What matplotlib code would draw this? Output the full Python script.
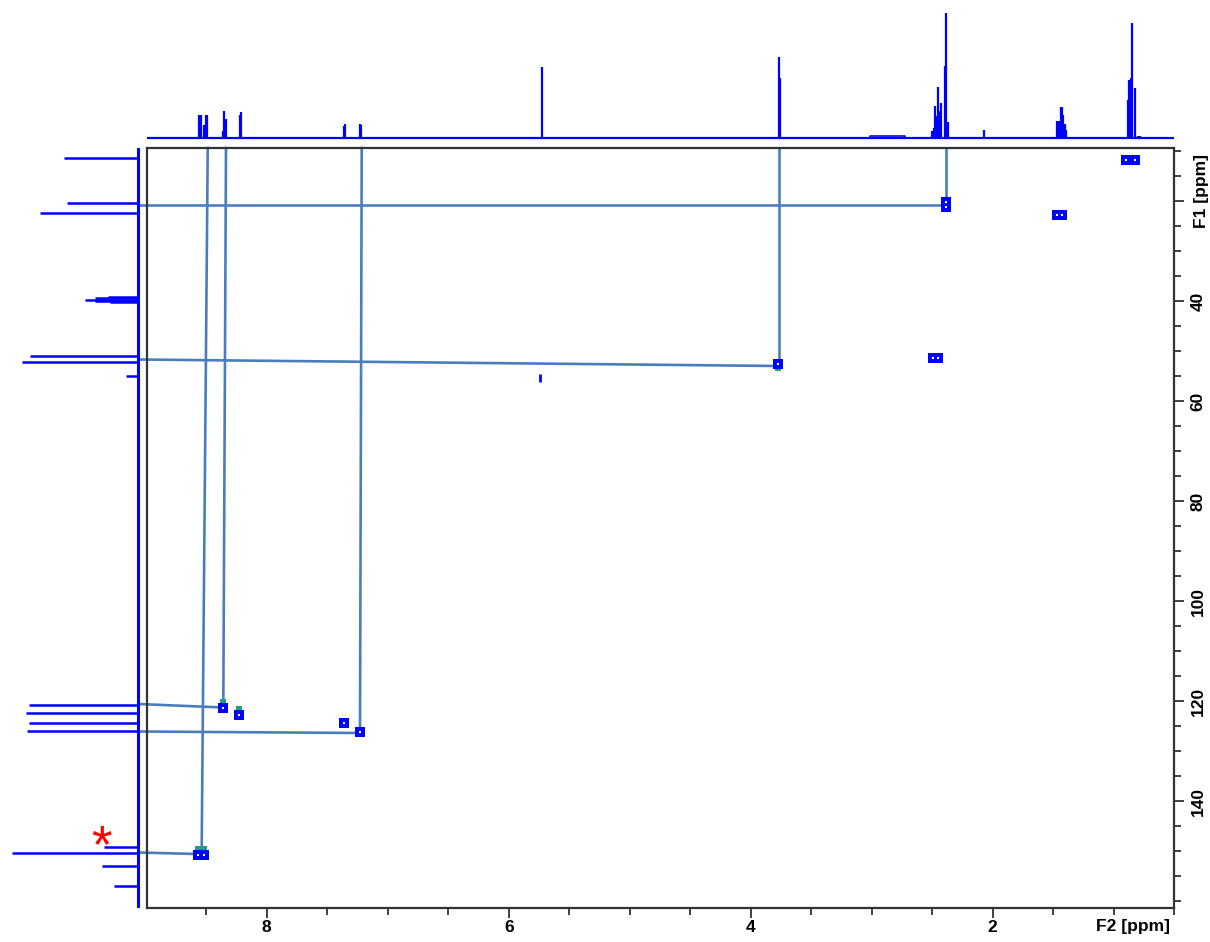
import numpy as np
import matplotlib
matplotlib.use('Agg')
import matplotlib.pyplot as plt
from matplotlib.ticker import MultipleLocator, FixedLocator, FixedFormatter

plt.rcParams['font.family'] = ['Liberation Sans', 'DejaVu Sans']

# 1H projection (F2): peak position [ppm], peak height [px above baseline]
h1_ppm = [8.557, 8.543, 8.516, 8.505, 8.494, 8.359, 8.351, 8.339, 8.221, 8.213,
          7.364, 7.353, 7.232, 7.218, 5.727, 3.768, 3.760, 3.133,
          2.626, 2.543, 2.499, 2.487, 2.475, 2.464, 2.452, 2.440, 2.430,
          2.392, 2.381, 2.369, 2.300, 2.221, 2.071, 1.962,
          1.465, 1.453, 1.438, 1.426, 1.415, 1.403, 1.391, 1.167, 1.001,
          0.880, 0.868, 0.857, 0.845, 0.825, 0.800, 0.780, 0.692]
h1_height = [23, 23, 13, 23, 23, 7, 27, 19, 23, 26,
             12, 14, 14, 13, 71, 81, 60, 1,
             1, 1, 7, 10, 32, 22, 51, 27, 35,
             72, 125, 16, 1, 1, 8, 1,
             17, 17, 31, 31, 23, 14, 8, 1, 1,
             38, 58, 60, 115, 50, 2, 2, 1]
hump = (3.01, 2.72, 2.0)

# 13C projection (F1): peak position [ppm], peak height [px]
c13_ppm = [11.3, 20.3, 22.3, 39.2, 39.45, 39.7, 39.95, 40.2, 50.9, 52.1, 55.0,
           120.8, 122.3, 124.3, 125.9, 149.1, 150.4, 152.9, 156.9]
c13_height = [74, 71, 98, 30, 43, 53, 43, 28, 108, 116, 12,
              109, 112, 109, 111, 34, 126, 36, 24]

# HSQC cross peaks (F2 ppm, F1 ppm)
cross_h = [0.895, 0.825, 2.385, 2.385, 1.47, 1.43, 2.49, 2.45, 3.77,
           8.36, 8.23, 7.36, 7.23, 8.57, 8.52]
cross_c = [11.7, 11.7, 20.2, 21.2, 22.7, 22.7, 51.3, 51.3, 52.6,
           121.3, 122.7, 124.3, 126.1, 150.8, 150.8]
neg_h = [8.36, 8.23, 8.57, 8.52, 3.77]
neg_c = [120.1, 121.5, 149.6, 149.6, 53.4]
weak_h = [5.74]
weak_c = [55.4]

# correlation lines: 1H peak -> cross peak, 13C peak -> cross peak
vert_top_h = [8.488, 8.337, 7.215, 3.768, 2.384]
vert_bot_h = [8.538, 8.359, 7.229, 3.768, 2.384]
vert_end_c = [149.8, 120.1, 125.4, 53.0, 20.8]
horz_left_c = [20.8, 51.7, 120.6, 126.1, 150.3]
horz_right_c = [20.8, 53.0, 121.3, 126.4, 150.6]
horz_end_h = [2.384, 3.768, 8.36, 7.23, 8.58]

W, H = 1210, 942
XLIM = (8.99, 0.5)
YLIM = (161.4, 9.4)
BLUE = '#0000ff'
LINK = '#4a7ebb'
FRAME = '#333333'


def rect(l, t, w, h):
    return [l / W, 1 - (t + h) / H, w / W, h / H]


def main():
    fig = plt.figure(figsize=(W / 100, H / 100), dpi=100)
    ax = fig.add_axes(rect(147, 148, 1027, 760))
    top = fig.add_axes(rect(147, 0, 1027, 143))
    left = fig.add_axes(rect(0, 148, 143, 760))

    # top 1H trace
    top.axhline(0, color=BLUE, lw=1.6)
    top.vlines(h1_ppm, 0, h1_height, color=BLUE, lw=1.6)
    lo, hi, hh = hump
    top.plot([lo, lo, hi, hi], [0, hh, hh, 0], color=BLUE, lw=1.2)
    top.set_xlim(*XLIM)
    top.set_ylim(-5, 138)
    top.axis('off')

    # left 13C trace
    left.axvline(0, color=BLUE, lw=2.2)
    left.hlines(c13_ppm, 0, c13_height, color=BLUE, lw=1.8)
    left.set_xlim(138, -5)
    left.set_ylim(*YLIM)
    left.axis('off')

    # main 2D panel
    ax.set_xlim(*XLIM)
    ax.set_ylim(*YLIM)
    for a, b, c in zip(vert_top_h, vert_bot_h, vert_end_c):
        ax.plot([a, b], [YLIM[1], c], color=LINK, lw=1.9, clip_on=False, zorder=2)
    for a, b, c in zip(horz_left_c, horz_right_c, horz_end_h):
        ax.plot([9.06, c], [a, b], color=LINK, lw=1.9, clip_on=False, zorder=2)
    ax.scatter(neg_h, neg_c, marker='s', s=22, color='#1f9e89', zorder=3, lw=0)
    ax.scatter(cross_h, cross_c, marker='s', s=48, color=BLUE, zorder=4, lw=0)
    ax.scatter(cross_h, cross_c, marker='s', s=1.2, color='white', zorder=5, lw=0)
    ax.scatter(weak_h, weak_c, marker='|', s=30, color=BLUE, lw=2, zorder=4)

    for s in ax.spines.values():
        s.set_color(FRAME)
        s.set_linewidth(1.6)

    ax.xaxis.set_major_locator(FixedLocator([2, 4, 6, 8]))
    ax.xaxis.set_minor_locator(MultipleLocator(0.5))
    ax.yaxis.set_major_locator(FixedLocator([20, 40, 60, 80, 100, 120, 140]))
    ax.yaxis.set_major_formatter(FixedFormatter(['', '40', '60', '80', '100', '120', '140']))
    ax.yaxis.set_minor_locator(MultipleLocator(5))
    ax.yaxis.tick_right()
    ax.tick_params(which='both', color=FRAME, width=1.3, labelsize=12.5)
    ax.tick_params(which='major', length=7)
    ax.tick_params(which='minor', length=5)
    ax.tick_params(axis='x', which='major', pad=2)
    ax.tick_params(axis='y', which='major', labelrotation=90, pad=5)
    for lab in ax.get_xticklabels() + ax.get_yticklabels():
        lab.set_fontweight('bold')
    for lab in ax.get_yticklabels():
        lab.set_verticalalignment('center')

    ax.text(1.019, 0.943, 'F1 [ppm]', transform=ax.transAxes, rotation=90,
            ha='left', va='center', fontsize=12.5, fontweight='bold')
    ax.text(0.996, -0.014, 'F2 [ppm]', transform=ax.transAxes,
            ha='right', va='top', fontsize=12.5, fontweight='bold')

    fig.text(101 / W, 1 - 848 / H, '*', color='red', fontsize=38,
             ha='center', va='center')

    fig.savefig('out.png', dpi=100)


if __name__ == '__main__':
    main()
